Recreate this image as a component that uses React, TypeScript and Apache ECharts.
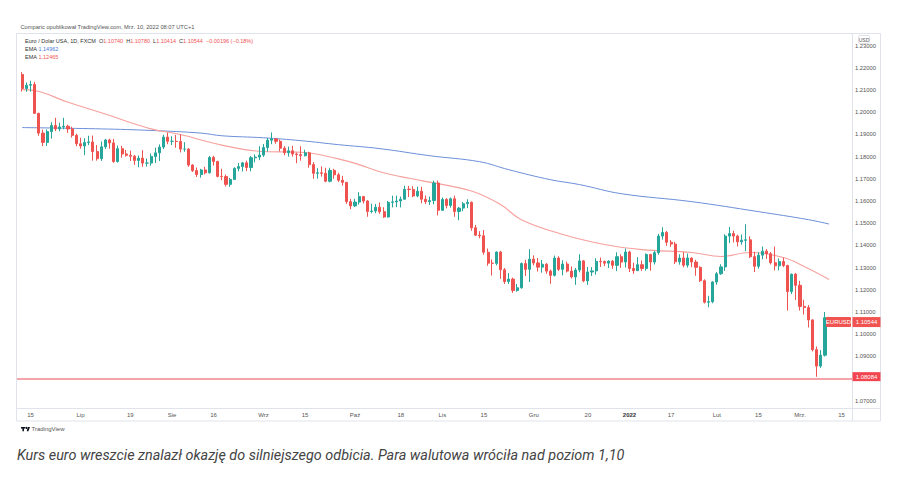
import React, { useEffect, useRef } from 'react';
import * as echarts from 'echarts';

// ---------- DATA ----------
const FIRST_DAY = '2021-06-10';
const LAST_DAY = '2022-03-17';

function tradingDays(a: string, b: string): string[] {
  const out: string[] = [];
  const d = new Date(a + 'T00:00:00Z');
  const end = new Date(b + 'T00:00:00Z');
  while (d.getTime() <= end.getTime()) {
    const wd = d.getUTCDay();
    if (wd !== 0 && wd !== 6) out.push(d.toISOString().slice(0, 10));
    d.setUTCDate(d.getUTCDate() + 1);
  }
  return out;
}

const categories = tradingDays(FIRST_DAY, LAST_DAY); // 201 slots
const candleDates = categories.slice(1, 196); // 2021-06-11 .. 2022-03-10

const opens = [
  1.2170, 1.2107, 1.2122, 1.2125, 1.1995, 1.1906, 1.1864, 1.1913, 1.1940, 1.1925,
  1.1934, 1.1937, 1.1925, 1.1896, 1.1858, 1.1848, 1.1864, 1.1866, 1.1823, 1.1791,
  1.1844, 1.1875, 1.1862, 1.1778, 1.1836, 1.1812, 1.1806, 1.1802, 1.1783, 1.1793,
  1.1771, 1.1771, 1.1801, 1.1817, 1.1843, 1.1888, 1.1869, 1.1869, 1.1868, 1.1834,
  1.1834, 1.1762, 1.1737, 1.1719, 1.1740, 1.1727, 1.1796, 1.1778, 1.1711, 1.1710,
  1.1675, 1.1697, 1.1747, 1.1755, 1.1772, 1.1751, 1.1795, 1.1798, 1.1807, 1.1841,
  1.1874, 1.1880, 1.1869, 1.1838, 1.1818, 1.1826, 1.1812, 1.1809, 1.1804, 1.1817,
  1.1764, 1.1725, 1.1727, 1.1725, 1.1689, 1.1738, 1.1718, 1.1694, 1.1684, 1.1597,
  1.1578, 1.1595, 1.1620, 1.1600, 1.1553, 1.1555, 1.1572, 1.1552, 1.1528, 1.1594,
  1.1596, 1.1600, 1.1608, 1.1653, 1.1652, 1.1623, 1.1644, 1.1608, 1.1597, 1.1602,
  1.1681, 1.1558, 1.1607, 1.1580, 1.1610, 1.1553, 1.1568, 1.1588, 1.1594, 1.1479,
  1.1446, 1.1443, 1.1369, 1.1320, 1.1319, 1.1370, 1.1290, 1.1237, 1.1248, 1.1197,
  1.1209, 1.1318, 1.1292, 1.1338, 1.1321, 1.1302, 1.1315, 1.1284, 1.1265, 1.1343,
  1.1292, 1.1316, 1.1284, 1.1258, 1.1289, 1.1330, 1.1240, 1.1280, 1.1285, 1.1328,
  1.1327, 1.1320, 1.1329, 1.1310, 1.1349, 1.1325, 1.1370, 1.1296, 1.1286, 1.1313,
  1.1296, 1.1359, 1.1325, 1.1367, 1.1442, 1.1458, 1.1414, 1.1406, 1.1326, 1.1343,
  1.1311, 1.1343, 1.1325, 1.1301, 1.1241, 1.1144, 1.1146, 1.1235, 1.1272, 1.1303,
  1.1442, 1.1453, 1.1442, 1.1416, 1.1423, 1.1425, 1.1349, 1.1306, 1.1356, 1.1374,
  1.1362, 1.1322, 1.1308, 1.1327, 1.1309, 1.1192, 1.1270, 1.1220, 1.1125, 1.1120,
  1.1064, 1.0930, 1.0856, 1.0905, 1.1074,
];

const closes = [
  1.2107, 1.2122, 1.2125, 1.1995, 1.1906, 1.1864, 1.1913, 1.1940, 1.1925, 1.1934,
  1.1937, 1.1925, 1.1896, 1.1858, 1.1848, 1.1864, 1.1866, 1.1823, 1.1791, 1.1844,
  1.1875, 1.1862, 1.1778, 1.1836, 1.1812, 1.1806, 1.1802, 1.1783, 1.1793, 1.1771,
  1.1771, 1.1801, 1.1817, 1.1843, 1.1888, 1.1869, 1.1869, 1.1868, 1.1834, 1.1834,
  1.1762, 1.1737, 1.1719, 1.1740, 1.1727, 1.1796, 1.1778, 1.1711, 1.1710, 1.1675,
  1.1697, 1.1747, 1.1755, 1.1772, 1.1751, 1.1795, 1.1798, 1.1807, 1.1841, 1.1874,
  1.1880, 1.1869, 1.1838, 1.1818, 1.1826, 1.1812, 1.1809, 1.1804, 1.1817, 1.1764,
  1.1725, 1.1727, 1.1725, 1.1689, 1.1738, 1.1718, 1.1694, 1.1684, 1.1597, 1.1578,
  1.1595, 1.1620, 1.1600, 1.1553, 1.1555, 1.1572, 1.1552, 1.1528, 1.1594, 1.1596,
  1.1600, 1.1608, 1.1653, 1.1652, 1.1623, 1.1644, 1.1608, 1.1597, 1.1602, 1.1681,
  1.1558, 1.1607, 1.1580, 1.1610, 1.1553, 1.1568, 1.1588, 1.1594, 1.1479, 1.1446,
  1.1443, 1.1369, 1.1320, 1.1319, 1.1370, 1.1290, 1.1237, 1.1248, 1.1197, 1.1209,
  1.1318, 1.1292, 1.1338, 1.1321, 1.1302, 1.1315, 1.1284, 1.1265, 1.1343, 1.1292,
  1.1316, 1.1284, 1.1258, 1.1289, 1.1330, 1.1240, 1.1280, 1.1285, 1.1328, 1.1327,
  1.1320, 1.1329, 1.1310, 1.1349, 1.1325, 1.1370, 1.1296, 1.1286, 1.1313, 1.1296,
  1.1359, 1.1325, 1.1367, 1.1442, 1.1458, 1.1414, 1.1406, 1.1326, 1.1343, 1.1311,
  1.1343, 1.1325, 1.1301, 1.1241, 1.1144, 1.1146, 1.1235, 1.1272, 1.1303, 1.1442,
  1.1453, 1.1442, 1.1416, 1.1423, 1.1425, 1.1349, 1.1306, 1.1356, 1.1374, 1.1362,
  1.1322, 1.1308, 1.1327, 1.1309, 1.1192, 1.1270, 1.1220, 1.1125, 1.1120, 1.1064,
  1.0930, 1.0856, 1.0905, 1.1074, 1.10544,
];

const lows = [
  1.2093, 1.2092, 1.2093, 1.1992, 1.1894, 1.1847, 1.1848, 1.1881, 1.1915, 1.1914,
  1.1923, 1.1907, 1.1886, 1.1847, 1.1836, 1.1807, 1.1852, 1.1782, 1.1782, 1.1781,
  1.1835, 1.1836, 1.1772, 1.1773, 1.1795, 1.1800, 1.1780, 1.1763, 1.1752, 1.1754,
  1.1755, 1.1759, 1.1771, 1.1780, 1.1834, 1.1856, 1.1852, 1.1840, 1.1819, 1.1822,
  1.1754, 1.1731, 1.1708, 1.1705, 1.1720, 1.1724, 1.1760, 1.1707, 1.1694, 1.1665,
  1.1664, 1.1696, 1.1734, 1.1733, 1.1735, 1.1734, 1.1774, 1.1784, 1.1799, 1.1823,
  1.1856, 1.1858, 1.1824, 1.1806, 1.1800, 1.1800, 1.1770, 1.1782, 1.1801, 1.1750,
  1.1700, 1.1701, 1.1710, 1.1685, 1.1684, 1.1700, 1.1686, 1.1669, 1.1587, 1.1563,
  1.1573, 1.1584, 1.1589, 1.1529, 1.1545, 1.1545, 1.1542, 1.1524, 1.1525, 1.1571,
  1.1572, 1.1571, 1.1606, 1.1618, 1.1617, 1.1617, 1.1590, 1.1586, 1.1582, 1.1585,
  1.1535, 1.1555, 1.1567, 1.1570, 1.1529, 1.1513, 1.1554, 1.1568, 1.1466, 1.1443,
  1.1432, 1.1358, 1.1308, 1.1264, 1.1310, 1.1249, 1.1226, 1.1226, 1.1186, 1.1191,
  1.1205, 1.1262, 1.1235, 1.1310, 1.1282, 1.1277, 1.1272, 1.1227, 1.1260, 1.1285,
  1.1265, 1.1278, 1.1251, 1.1222, 1.1279, 1.1234, 1.1222, 1.1262, 1.1268, 1.1303,
  1.1307, 1.1298, 1.1294, 1.1284, 1.1299, 1.1300, 1.1280, 1.1272, 1.1285, 1.1285,
  1.1286, 1.1286, 1.1314, 1.1358, 1.1426, 1.1398, 1.1393, 1.1316, 1.1313, 1.1301,
  1.1300, 1.1302, 1.1263, 1.1235, 1.1138, 1.1121, 1.1139, 1.1223, 1.1267, 1.1285,
  1.1410, 1.1413, 1.1395, 1.1403, 1.1374, 1.1343, 1.1280, 1.1295, 1.1337, 1.1339,
  1.1314, 1.1287, 1.1287, 1.1302, 1.1106, 1.1181, 1.1154, 1.1106, 1.1088, 1.1030,
  1.0922, 1.0808, 1.0848, 1.0899, 1.10414,
];

const highs = [
  1.2181, 1.2134, 1.2142, 1.2137, 1.1998, 1.1922, 1.1923, 1.1955, 1.1975, 1.1953,
  1.1975, 1.1944, 1.1935, 1.1903, 1.1885, 1.1883, 1.1894, 1.1895, 1.1852, 1.1868,
  1.1880, 1.1881, 1.1880, 1.1850, 1.1849, 1.1830, 1.1827, 1.1808, 1.1805, 1.1829,
  1.1792, 1.1814, 1.1840, 1.1855, 1.1898, 1.1909, 1.1892, 1.1898, 1.1900, 1.1865,
  1.1838, 1.1766, 1.1751, 1.1745, 1.1754, 1.1803, 1.1804, 1.1782, 1.1745, 1.1719,
  1.1704, 1.1752, 1.1772, 1.1776, 1.1782, 1.1803, 1.1810, 1.1847, 1.1857, 1.1884,
  1.1909, 1.1883, 1.1877, 1.1847, 1.1845, 1.1849, 1.1818, 1.1847, 1.1831, 1.1822,
  1.1775, 1.1748, 1.1756, 1.1750, 1.1750, 1.1745, 1.1727, 1.1713, 1.1686, 1.1609,
  1.1610, 1.1640, 1.1623, 1.1604, 1.1588, 1.1587, 1.1593, 1.1572, 1.1600, 1.1624,
  1.1624, 1.1620, 1.1669, 1.1668, 1.1667, 1.1665, 1.1664, 1.1625, 1.1620, 1.1692,
  1.1692, 1.1616, 1.1613, 1.1616, 1.1624, 1.1574, 1.1596, 1.1608, 1.1598, 1.1492,
  1.1464, 1.1469, 1.1386, 1.1337, 1.1373, 1.1375, 1.1298, 1.1275, 1.1255, 1.1226,
  1.1323, 1.1335, 1.1383, 1.1355, 1.1343, 1.1334, 1.1320, 1.1291, 1.1354, 1.1351,
  1.1333, 1.1327, 1.1305, 1.1298, 1.1360, 1.1334, 1.1303, 1.1302, 1.1342, 1.1345,
  1.1332, 1.1333, 1.1333, 1.1369, 1.1360, 1.1386, 1.1376, 1.1322, 1.1347, 1.1332,
  1.1364, 1.1362, 1.1375, 1.1452, 1.1482, 1.1465, 1.1424, 1.1416, 1.1360, 1.1369,
  1.1363, 1.1346, 1.1335, 1.1306, 1.1247, 1.1173, 1.1238, 1.1280, 1.1315, 1.1450,
  1.1483, 1.1466, 1.1448, 1.1449, 1.1495, 1.1441, 1.1371, 1.1369, 1.1395, 1.1383,
  1.1370, 1.1395, 1.1341, 1.1345, 1.1313, 1.1273, 1.1276, 1.1240, 1.1155, 1.1131,
  1.1067, 1.0944, 1.0928, 1.1100, 1.1078,
];

// EMA readings (bar number, 1 = first candle)
const emaBlueBars = [1, 20, 32, 44, 49, 59, 68, 77, 87, 99, 111, 118, 128, 135, 145, 162, 178, 190, 195];
const emaBlueValues = [1.1931, 1.1925, 1.1918, 1.1906, 1.1894, 1.1885, 1.1872, 1.1854, 1.1836, 1.1804,
  1.1777, 1.1741, 1.1696, 1.1674, 1.1633, 1.1597, 1.1552, 1.1516, 1.14962];

const emaRedBars = [1, 4, 12, 20, 32, 39, 49, 59, 68, 77, 82, 87, 92, 97, 109, 116, 121, 131, 141, 150, 162, 169, 176, 184, 189, 195];
const emaRedValues = [1.2102, 1.2098, 1.2045, 1.1998, 1.1925, 1.1900, 1.1852, 1.1823, 1.1820, 1.1790,
  1.1764, 1.1732, 1.1710, 1.1692, 1.1645, 1.1584, 1.1516, 1.1449, 1.1404, 1.1381,
  1.1368, 1.1350, 1.1368, 1.1345, 1.1305, 1.12465];

const supportLevel = 1.08084;
const lastPrice = 1.10544;
const hiddenTick = 1.08; // covered by the support label in the reference

const xLabels: Record<string, string> = {
  '2021-06-15': '15', '2021-07-01': 'Lip', '2021-07-19': '19', '2021-08-02': 'Sie',
  '2021-08-16': '16', '2021-09-01': 'Wrz', '2021-09-15': '15', '2021-10-01': 'Paź',
  '2021-10-18': '18', '2021-11-01': 'Lis', '2021-11-15': '15', '2021-12-01': 'Gru',
  '2021-12-20': '20', '2022-01-03': '2022', '2022-01-17': '17', '2022-02-01': 'Lut',
  '2022-02-15': '15', '2022-03-01': 'Mrz.', '2022-03-15': '15',
};

// ---------- STYLE ----------
const UP = '#26a69a';
const DOWN = '#ef5350';
const UI_FONT = '"Liberation Sans", Arial, sans-serif';
const LEG = `5.5px ${UI_FONT}`;

export default function App() {
  const ref = useRef<HTMLDivElement>(null);

  useEffect(() => {
    if (!ref.current) return;
    const chart = echarts.init(ref.current, undefined, { renderer: 'svg' });

    const candleData = candleDates.map((d, i) => [d, opens[i], closes[i], lows[i], highs[i]]);
    const blueData = emaBlueBars.map((b, i) => [candleDates[b - 1], emaBlueValues[i]]);
    const redData = emaRedBars.map((b, i) => [candleDates[b - 1], emaRedValues[i]]);

    chart.setOption({
      animation: false,
      backgroundColor: '#ffffff',
      grid: { left: 16, top: 33, width: 836, height: 375, containLabel: false },
      xAxis: {
        type: 'category',
        data: categories,
        boundaryGap: true,
        axisLine: { show: false },
        axisTick: { show: false },
        splitLine: { show: false },
        axisLabel: {
          interval: (_i: number, v: string) => v in xLabels,
          formatter: (v: string) => (v === '2022-01-03' ? '{b|2022}' : xLabels[v] || ''),
          fontSize: 6,
          color: '#555',
          fontFamily: UI_FONT,
          margin: 4,
          rich: { b: { fontWeight: 'bold', fontSize: 6, color: '#333', fontFamily: UI_FONT } },
        },
      },
      yAxis: {
        type: 'value',
        position: 'right',
        min: 1.06671,
        max: 1.23572,
        minInterval: 0.01,
        maxInterval: 0.01,
        axisLine: { show: false },
        axisTick: { show: false },
        splitLine: { show: false },
        axisLabel: {
          margin: 3,
          fontSize: 5.8,
          color: '#555',
          fontFamily: UI_FONT,
          showMinLabel: false,
          showMaxLabel: false,
          formatter: (v: number) => (Math.abs(v - hiddenTick) < 1e-6 ? '' : v.toFixed(5)),
        },
      },
      series: [
        {
          type: 'line',
          data: blueData,
          smooth: 0.4,
          symbol: 'none',
          lineStyle: { color: '#6c8fd8', width: 1 },
          z: 2,
        },
        {
          type: 'line',
          data: redData,
          smooth: 0.4,
          symbol: 'none',
          lineStyle: { color: '#f6a19d', width: 1.1 },
          z: 2,
        },
        {
          type: 'candlestick',
          data: candleData,
          encode: { x: 0, y: [1, 2, 3, 4] },
          barWidth: 2.6,
          itemStyle: {
            color: UP,
            color0: DOWN,
            borderColor: UP,
            borderColor0: DOWN,
            borderWidth: 1,
          },
          markLine: {
            silent: true,
            symbol: 'none',
            label: { show: false },
            lineStyle: { color: '#f2868c', width: 1.5, type: 'solid' },
            data: [{ yAxis: supportLevel }],
          },
          z: 3,
        },
      ],
    });

    const yLast = chart.convertToPixel({ yAxisIndex: 0 }, lastPrice) as number;
    const ySup = chart.convertToPixel({ yAxisIndex: 0 }, supportLevel) as number;

    const txt = (x: number, y: number, text: string, extra: any = {}) => ({
      type: 'text',
      x,
      y,
      z: 100,
      style: {
        text,
        fill: '#555',
        font: `6px ${UI_FONT}`,
        verticalAlign: 'middle',
        align: 'left',
        ...extra,
      },
    });

    chart.setOption({
      graphic: {
        elements: [
          // frame
          { type: 'rect', z: 90, shape: { x: 16.5, y: 33.5, width: 864, height: 387.5 }, style: { fill: 'none', stroke: '#e0e3eb', lineWidth: 1 } },
          { type: 'line', z: 90, shape: { x1: 852.5, y1: 33.5, x2: 852.5, y2: 421 }, style: { stroke: '#e0e3eb', lineWidth: 1 } },
          { type: 'line', z: 90, shape: { x1: 16.5, y1: 408.5, x2: 880.5, y2: 408.5 }, style: { stroke: '#e0e3eb', lineWidth: 1 } },
          // header
          txt(20.5, 27, 'Comparic opublikował TradingView.com, Mrz. 10, 2022 08:07 UTC+1', { font: `5.7px ${UI_FONT}` }),
          {
            type: 'text', x: 25, y: 41, z: 100,
            style: {
              text: '{n|Euro / Dolar USA, 1D, FXCM  }{k|O}{r|1.10740}  {k|H}{r|1.10780}  {k|L}{r|1.10414}  {k|C}{r|1.10544}  {r|−0.00196 (−0.18%)}',
              verticalAlign: 'middle',
              font: LEG,
              fill: '#333',
              rich: {
                n: { fill: '#333', font: LEG },
                k: { fill: '#333', font: LEG },
                r: { fill: '#f05353', font: LEG },
              },
            },
          },
          {
            type: 'text', x: 25, y: 49, z: 100,
            style: {
              text: '{n|EMA }{b|1.14962}', verticalAlign: 'middle', font: LEG,
              rich: { n: { fill: '#333', font: LEG }, b: { fill: '#4f78d6', font: LEG } },
            },
          },
          {
            type: 'text', x: 25, y: 57, z: 100,
            style: {
              text: '{n|EMA }{r|1.12465}', verticalAlign: 'middle', font: LEG,
              rich: { n: { fill: '#333', font: LEG }, r: { fill: '#f05353', font: LEG } },
            },
          },
          // USD box
          { type: 'rect', z: 100, shape: { x: 858.5, y: 35.5, width: 11, height: 8, r: 1 }, style: { fill: '#fff', stroke: '#d6d8de', lineWidth: 0.8 } },
          txt(864, 39.5, 'USD', { align: 'center', font: `5px ${UI_FONT}` }),
          // last price labels
          { type: 'rect', z: 100, shape: { x: 826, y: yLast - 5, width: 25, height: 10, r: 1 }, style: { fill: '#f05350' } },
          txt(838.5, yLast, 'EURUSD', { align: 'center', fill: '#fff' }),
          { type: 'rect', z: 100, shape: { x: 852.5, y: yLast - 5, width: 28, height: 10 }, style: { fill: '#f05350' } },
          txt(866.5, yLast, lastPrice.toFixed(5), { align: 'center', fill: '#fff' }),
          // support label
          { type: 'rect', z: 100, shape: { x: 852.5, y: ySup - 4.5, width: 28, height: 9 }, style: { fill: '#f2454f' } },
          txt(866.5, ySup, supportLevel.toFixed(5), { align: 'center', fill: '#fff' }),
          // TradingView logo
          { type: 'rect', z: 100, shape: { x: 21, y: 427, width: 4.2, height: 1.6 }, style: { fill: '#131722' } },
          { type: 'rect', z: 100, shape: { x: 22.4, y: 427, width: 1.6, height: 4.2 }, style: { fill: '#131722' } },
          { type: 'circle', z: 100, shape: { cx: 26.3, cy: 427.9, r: 0.9 }, style: { fill: '#131722' } },
          { type: 'polygon', z: 100, shape: { points: [[27.6, 427], [30, 427], [28.4, 431.2], [26.8, 431.2]] }, style: { fill: '#131722' } },
          txt(31.5, 429.2, 'TradingView', { fill: '#555' }),
          // caption
          {
            type: 'text', x: 17, y: 455.5, z: 100,
            style: {
              text: 'Kurs euro wreszcie znalazł okazję do silniejszego odbicia. Para walutowa wróciła nad poziom 1,10',
              font: 'italic 14.4px Roboto, "Noto Sans", sans-serif',
              fill: '#444',
              verticalAlign: 'middle',
            },
          },
        ],
      },
    });

    return () => chart.dispose();
  }, []);

  return (
    <div
      ref={ref}
      style={{ position: 'absolute', left: 0, top: 0, width: 906, height: 488, background: '#fff' }}
    />
  );
}
